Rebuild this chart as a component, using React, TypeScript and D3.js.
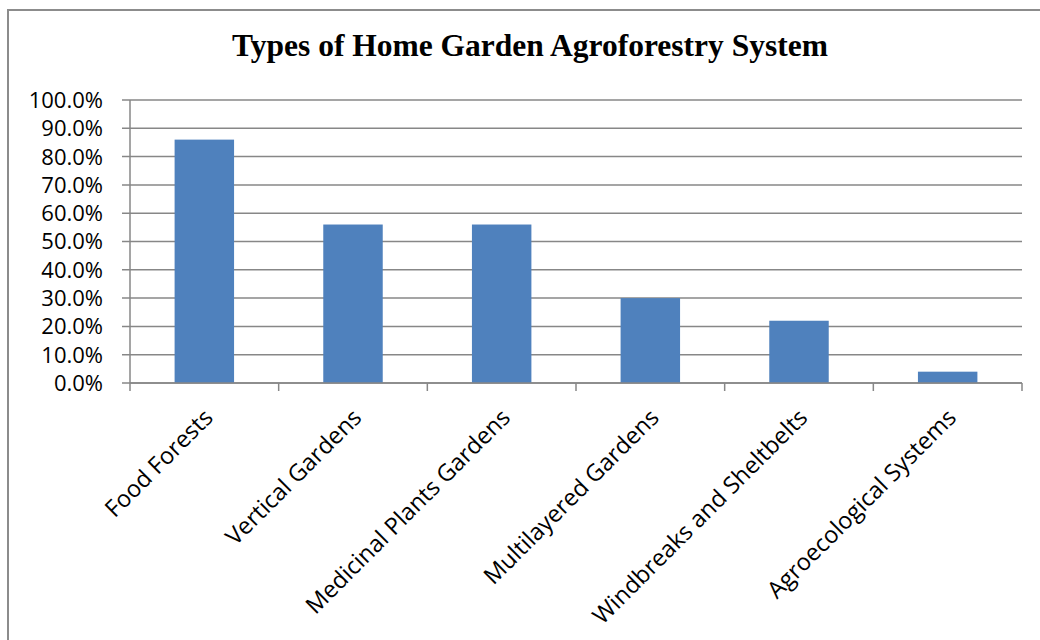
import React from "react";
import * as d3 from "d3";

const categories = [
  "Food Forests",
  "Vertical Gardens",
  "Medicinal Plants Gardens",
  "Multilayered Gardens",
  "Windbreaks and Sheltbelts",
  "Agroecological Systems",
];
const shares = [0.86, 0.56, 0.56, 0.3, 0.22, 0.04];
const yTicks = [0, 0.1, 0.2, 0.3, 0.4, 0.5, 0.6, 0.7, 0.8, 0.9, 1.0];
const title = "Types of Home Garden Agroforestry System";

const W = 1040;
const H = 640;
const plot = { left: 130, right: 1022, top: 100, bottom: 383 };
const GRID = "#878787";
const BAR = "#4f81bd";
const FONT = "'Open Sans', 'Liberation Sans', sans-serif";

export default function App() {
  const x = d3
    .scaleBand<string>()
    .domain(categories)
    .range([plot.left, plot.right])
    .paddingInner(0.6)
    .paddingOuter(0.3);
  const band = d3.scaleBand<string>().domain(categories).range([plot.left, plot.right]);
  const y = d3.scaleLinear().domain([0, 1]).range([plot.bottom, plot.top]);
  const fmt = d3.format(".1%");

  return (
    <svg
      width={W}
      height={H}
      style={{ position: "absolute", left: 0, top: 0, display: "block" }}
    >
      <rect x={0} y={0} width={W} height={H} fill="#fff" />
      {/* chart frame */}
      <rect x={8} y={10} width={W + 20} height={H + 20} fill="none" stroke="#8c8c8c" strokeWidth={2} />
      <text
        x={530}
        y={56}
        textAnchor="middle"
        fontFamily="'Liberation Serif', 'Times New Roman', serif"
        fontWeight="bold"
        fontSize={31.5}
        fill="#000"
      >
        {title}
      </text>

      {/* gridlines and value axis */}
      {yTicks.map((t) => (
        <g key={t}>
          <line x1={plot.left - 8} x2={plot.right} y1={y(t)} y2={y(t)} stroke={GRID} strokeWidth={1.5} />
          <text
            x={103}
            y={y(t)}
            dy="0.36em"
            textAnchor="end"
            fontFamily={FONT}
            fontSize={22}
            fill="#000"
          >
            {fmt(t)}
          </text>
        </g>
      ))}
      <line x1={plot.left} x2={plot.left} y1={plot.top} y2={plot.bottom + 8} stroke={GRID} strokeWidth={1.5} />

      {/* bars */}
      {categories.map((c, i) => (
        <rect
          key={c}
          x={x(c)}
          y={y(shares[i])}
          width={x.bandwidth()}
          height={y(0) - y(shares[i])}
          fill={BAR}
        />
      ))}

      {/* category axis */}
      <line x1={plot.left} x2={plot.right} y1={plot.bottom} y2={plot.bottom} stroke={GRID} strokeWidth={1.5} />
      {categories.map((c) => (
        <line
          key={c}
          x1={(band(c) as number) + band.bandwidth()}
          x2={(band(c) as number) + band.bandwidth()}
          y1={plot.bottom}
          y2={plot.bottom + 8}
          stroke={GRID}
          strokeWidth={1.5}
        />
      ))}
      {categories.map((c) => {
        const cx = (band(c) as number) + band.bandwidth() / 2;
        return (
          <text
            key={c}
            transform={`translate(${cx + 10},${419}) rotate(-45)`}
            textAnchor="end"
            fontFamily={FONT}
            fontSize={23.5}
            fill="#000"
          >
            {c}
          </text>
        );
      })}
    </svg>
  );
}
